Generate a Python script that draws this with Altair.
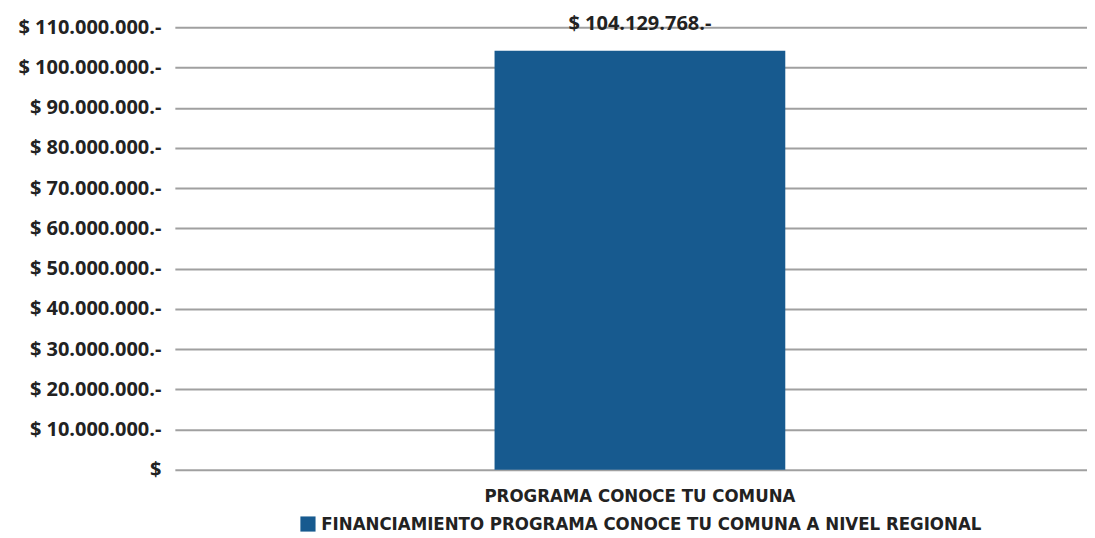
import altair as alt
import pandas as pd

categories = ["PROGRAMA CONOCE TU COMUNA"]
series = ["FINANCIAMIENTO PROGRAMA CONOCE TU COMUNA A NIVEL REGIONAL"]
values = [104129768]
value_labels = ["$ 104.129.768.-"]
tick_values = [0, 10000000, 20000000, 30000000, 40000000, 50000000, 60000000,
               70000000, 80000000, 90000000, 100000000, 110000000]

df = pd.DataFrame({"cat": categories, "serie": series, "valor": values, "label": value_labels})

label_expr = ("datum.value == 0 ? '$' : '$ ' + join(split(format(datum.value, ','), ','), '.') + '.-'")

COND = "DejaVu Sans Condensed"

base = alt.Chart(df).encode(
    x=alt.X("cat:N", title=None,
            axis=alt.Axis(labelAngle=0, labelFont=COND, labelFontSize=18.5,
                          labelFontWeight="bold", labelColor="#222222", domain=False, ticks=False,
                          labelPadding=17, labelLimit=800, labelOffset=9)),
)

bars = base.mark_bar(size=291, color="#175A8F", xOffset=9).encode(
    y=alt.Y("valor:Q", title=None,
            scale=alt.Scale(domain=[0, 110000000], nice=False),
            axis=alt.Axis(values=tick_values, labelExpr=label_expr, labelFont="Open Sans",
                          labelFontSize=20, labelFontWeight="bold", labelColor="#222222",
                          domain=False, ticks=False, labelPadding=14,
                          gridColor="#A0A0A0", gridWidth=2)),
    color=alt.Color("serie:N", scale=alt.Scale(range=["#175A8F"]),
                    legend=alt.Legend(title=None, orient="none", legendX=124, legendY=488,
                                      symbolType="square",
                                      symbolSize=230, labelFont=COND,
                                      labelFontSize=18.5, labelFontWeight="bold",
                                      labelColor="#222222", labelLimit=800)),
)

text = base.mark_text(dy=-27, dx=9, font="Open Sans", fontSize=20, fontWeight="bold",
                      color="#222222").encode(
    y=alt.Y("valor:Q"),
    text="label:N",
)

chart = (bars + text).properties(width=913, height=443, padding={"left": 9, "top": 5, "right": 0, "bottom": 0}).configure_view(stroke=None)

chart.save("out.html", embed_options={"renderer": "svg", "actions": False})
